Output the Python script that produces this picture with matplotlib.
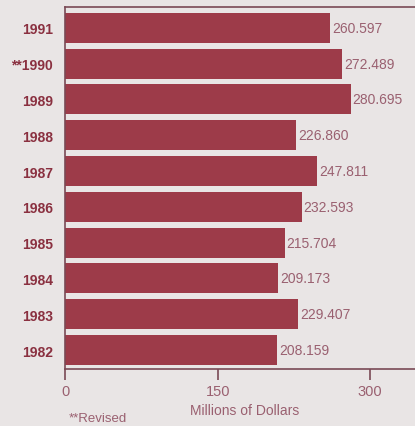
import matplotlib.pyplot as plt

years = ['1991', '**1990', '1989', '1988', '1987', '1986', '1985', '1984', '1983', '1982']
values = [260.597, 272.489, 280.695, 226.860, 247.811, 232.593, 215.704, 209.173, 229.407, 208.159]
ticks = [0, 150, 300]

bg = '#e9e5e5'
bar_color = '#9d3b49'
year_color = '#8a3040'
text_color = '#9a6070'

plt.rcParams['font.family'] = ['Liberation Sans Narrow', 'Liberation Sans', 'DejaVu Sans']

fig = plt.figure(figsize=(4.15, 4.27), dpi=100, facecolor=bg)
ax = fig.add_axes([0.157, 0.1335, 0.843, 0.8475], facecolor=bg)

pos = list(range(len(years)))[::-1]
ax.barh(pos, values, height=0.84, color=bar_color, zorder=2)

for p, v in zip(pos, values):
    ax.text(v + 2, p, f'{v:.3f}', va='center', ha='left', fontsize=10, color=text_color)

ax.set_yticks(pos)
ax.set_yticklabels(years, fontsize=10, fontweight='bold', color=year_color)
ax.tick_params(axis='y', length=0, pad=9)

ax.set_xticks(ticks)
ax.set_xticklabels([str(t) for t in ticks], fontsize=10.5, color=text_color)
ax.tick_params(axis='x', direction='out', length=8, width=1.2, color='#7a4a55', pad=3)

ax.set_xlim(0, 344)
ax.set_ylim(-0.53, 9.58)

ax.spines['right'].set_visible(False)
for side in ['top', 'left', 'bottom']:
    ax.spines[side].set_color('#7a4a55')
    ax.spines[side].set_linewidth(1.2)

fig.text(0.59, 0.038, 'Millions of Dollars', ha='center', va='center', fontsize=10, color=text_color)
fig.text(0.165, 0.018, '**Revised', ha='left', va='center', fontsize=9.5, color=text_color)

fig.savefig('out.png', dpi=100, facecolor=bg)
